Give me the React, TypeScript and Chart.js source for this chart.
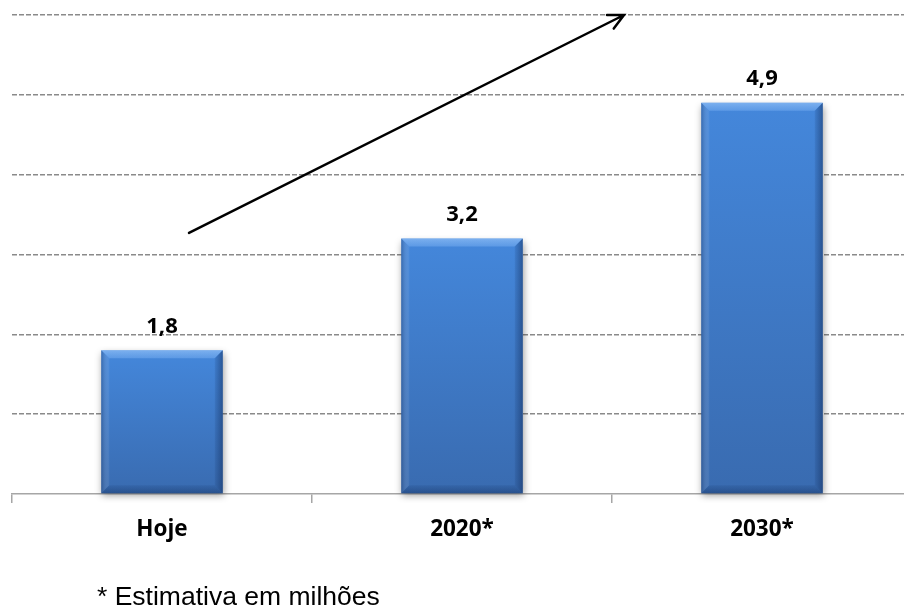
import React, { useEffect, useRef } from "react";
import { Chart, registerables } from "chart.js";

Chart.register(...registerables);

// Population estimate (millions) per period
const CATEGORIES = ["Hoje", "2020*", "2030*"];
const VALUES = [1.8, 3.2, 4.9];
const VALUE_LABELS = ["1,8", "3,2", "4,9"];
const Y_MIN = 0;
const Y_MAX = 6;
const Y_STEP = 1;
const FOOTNOTE = "* Estimativa em milhões";

// Trend arrow, in data units (category index, value)
const ARROW_FROM = [0.09, 3.27];
const ARROW_TO = [1.54, 6.0];

const BAR_TOP = "#4487DB";
const BAR_BOTTOM = "#396BB0";
const GRID = "#8A8A8A";
const AXIS = "#A6A6A6";

const barShadow = {
  id: "barShadow",
  beforeDatasetsDraw(chart: any) {
    const ctx = chart.ctx;
    ctx.save();
    ctx.shadowColor = "rgba(0,0,0,0.38)";
    ctx.shadowBlur = 7;
    ctx.shadowOffsetX = 1;
    ctx.shadowOffsetY = 3;
  },
  afterDatasetsDraw(chart: any) {
    chart.ctx.restore();
  },
};

const barBevel = {
  id: "barBevel",
  afterDatasetsDraw(chart: any) {
    const ctx = chart.ctx;
    const meta = chart.getDatasetMeta(0);
    const b = 8;
    const poly = (pts: number[][], fill: any) => {
      ctx.beginPath();
      ctx.moveTo(pts[0][0], pts[0][1]);
      for (let i = 1; i < pts.length; i++) ctx.lineTo(pts[i][0], pts[i][1]);
      ctx.closePath();
      ctx.fillStyle = fill;
      ctx.fill();
    };
    ctx.save();
    meta.data.forEach((el: any) => {
      const { x, y, base, width } = el.getProps(["x", "y", "base", "width"], true);
      if (![x, y, base, width].every(Number.isFinite)) return;
      const l = x - width / 2;
      const r = x + width / 2;
      const t = y;
      const bo = base;
      const tg = ctx.createLinearGradient(0, t, 0, t + b);
      tg.addColorStop(0, "rgba(170,210,255,0.55)");
      tg.addColorStop(1, "rgba(140,190,250,0.35)");
      poly([[l, t], [r, t], [r - b, t + b], [l + b, t + b]], tg);
      const lg = ctx.createLinearGradient(l, 0, l + b, 0);
      lg.addColorStop(0, "rgba(20,50,100,0.35)");
      lg.addColorStop(1, "rgba(255,255,255,0.06)");
      poly([[l, t], [l + b, t + b], [l + b, bo - b], [l, bo]], lg);
      const rg = ctx.createLinearGradient(r - b, 0, r, 0);
      rg.addColorStop(0, "rgba(20,50,100,0.12)");
      rg.addColorStop(1, "rgba(15,40,85,0.5)");
      poly([[r, t], [r, bo], [r - b, bo - b], [r - b, t + b]], rg);
      const bg = ctx.createLinearGradient(0, bo - b, 0, bo);
      bg.addColorStop(0, "rgba(20,50,100,0.12)");
      bg.addColorStop(1, "rgba(15,40,85,0.4)");
      poly([[l, bo], [r, bo], [r - b, bo - b], [l + b, bo - b]], bg);
    });
    ctx.restore();
  },
};

const valueLabels = {
  id: "valueLabels",
  afterDatasetsDraw(chart: any) {
    const ctx = chart.ctx;
    const meta = chart.getDatasetMeta(0);
    ctx.save();
    ctx.font = "bold 22px 'Open Sans', sans-serif";
    ctx.fillStyle = "#000";
    ctx.textAlign = "center";
    ctx.textBaseline = "middle";
    meta.data.forEach((el: any, i: number) => {
      ctx.fillText(VALUE_LABELS[i], el.x, el.y - 24);
    });
    ctx.restore();
  },
};

const trendArrow = {
  id: "trendArrow",
  afterDatasetsDraw(chart: any) {
    const { x: xs, y: ys } = chart.scales;
    const x1 = xs.getPixelForValue(ARROW_FROM[0]);
    const y1 = ys.getPixelForValue(ARROW_FROM[1]);
    const x2 = xs.getPixelForValue(ARROW_TO[0]);
    const y2 = ys.getPixelForValue(ARROW_TO[1]);
    const ctx = chart.ctx;
    const ang = Math.atan2(y2 - y1, x2 - x1);
    const head = 17;
    const spread = 0.46;
    ctx.save();
    ctx.strokeStyle = "#000";
    ctx.lineWidth = 2.5;
    ctx.lineCap = "round";
    ctx.beginPath();
    ctx.moveTo(x1, y1);
    ctx.lineTo(x2, y2);
    ctx.moveTo(x2 - head * Math.cos(ang - spread), y2 - head * Math.sin(ang - spread));
    ctx.lineTo(x2, y2);
    ctx.lineTo(x2 - head * Math.cos(ang + spread), y2 - head * Math.sin(ang + spread));
    ctx.stroke();
    ctx.restore();
  },
};

const footnote = {
  id: "footnote",
  afterDraw(chart: any) {
    const ctx = chart.ctx;
    const area = chart.chartArea;
    ctx.save();
    ctx.font = "26.5px 'Liberation Sans', Arial, sans-serif";
    ctx.fillStyle = "#000";
    ctx.textAlign = "left";
    ctx.textBaseline = "alphabetic";
    ctx.fillText(FOOTNOTE, area.left + 85, chart.height - 2);
    ctx.restore();
  },
};

export default function App() {
  const ref = useRef<HTMLCanvasElement>(null);

  useEffect(() => {
    if (!ref.current) return;
    const chart = new Chart(ref.current, {
      type: "bar",
      data: {
        labels: CATEGORIES,
        datasets: [
          {
            data: VALUES,
            clip: false as any,
            backgroundColor: (c: any) => {
              const { chart: ch, dataIndex } = c;
              const ys = ch.scales?.y;
              if (!ys || !ch.chartArea || dataIndex === undefined) return BAR_TOP;
              const top = ys.getPixelForValue(VALUES[dataIndex]);
              const bot = ys.getPixelForValue(0);
              if (!Number.isFinite(top) || !Number.isFinite(bot)) return BAR_TOP;
              const g = ch.ctx.createLinearGradient(0, top, 0, bot);
              g.addColorStop(0, BAR_TOP);
              g.addColorStop(1, BAR_BOTTOM);
              return g;
            },
            borderWidth: 0,
            categoryPercentage: 1,
            barPercentage: 0.405,
          },
        ],
      },
      options: {
        animation: false,
        responsive: false,
        devicePixelRatio: 1,
        layout: { padding: { left: 12, top: 15, right: 8, bottom: 0 } },
        plugins: { legend: { display: false }, tooltip: { enabled: false } },
        scales: {
          x: {
            afterFit: (s: any) => {
              s.height = 113;
            },
            grid: {
              display: true,
              drawOnChartArea: false,
              drawTicks: true,
              tickLength: 9,
              color: AXIS,
              lineWidth: 1.5,
              offset: true,
            },
            border: { display: true, color: AXIS, width: 1.5 },
            ticks: {
              color: "#000",
              font: { family: "'Open Sans', sans-serif", size: 22.5, weight: "bold" },
              padding: 13,
            },
          },
          y: {
            min: Y_MIN,
            max: Y_MAX,
            afterFit: (s: any) => {
              s.width = 0;
            },
            ticks: { display: false, stepSize: Y_STEP },
            grid: {
              drawTicks: false,
              color: (c: any) => (c.tick && c.tick.value === 0 ? "rgba(0,0,0,0)" : GRID),
              lineWidth: 1.4,
            },
            border: { display: false, dash: [5, 2] },
          },
        },
      },
      plugins: [barShadow, barBevel, valueLabels, trendArrow, footnote],
    });
    return () => chart.destroy();
  }, []);

  return (
    <div
      style={{
        position: "fixed",
        left: 0,
        top: 0,
        width: 904,
        height: 607,
        overflow: "hidden",
        background: "#fff",
      }}
    >
      <canvas ref={ref} width={920} height={607} style={{ display: "block" }} />
    </div>
  );
}
